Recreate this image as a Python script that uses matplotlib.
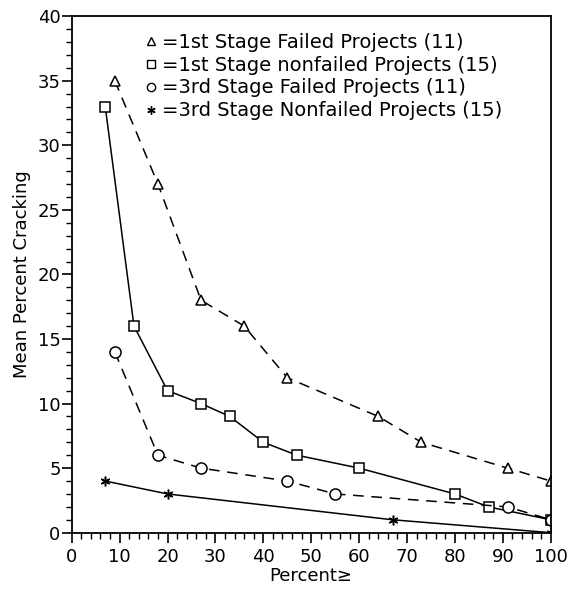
"""Mean percent cracking vs percent>= for failed / nonfailed projects."""

import matplotlib
matplotlib.use("Agg")
import matplotlib.pyplot as plt
from matplotlib.lines import Line2D
from matplotlib.ticker import MultipleLocator

# data
x_1st_failed = [9, 18, 27, 36, 45, 64, 73, 91, 100]
y_1st_failed = [35, 27, 18, 16, 12, 9, 7, 5, 4]

x_1st_nonfailed = [7, 13, 20, 27, 33, 40, 47, 60, 80, 87, 100]
y_1st_nonfailed = [33, 16, 11, 10, 9, 7, 6, 5, 3, 2, 1]

x_3rd_failed = [9, 18, 27, 45, 55, 91, 100]
y_3rd_failed = [14, 6, 5, 4, 3, 2, 1]

x_3rd_nonfailed = [7, 20, 67, 100]
y_3rd_nonfailed = [4, 3, 1, 0]

labels = ["=1st Stage Failed Projects (11)",
          "=1st Stage nonfailed Projects (15)",
          "=3rd Stage Failed Projects (11)",
          "=3rd Stage Nonfailed Projects (15)"]

plt.rcParams['font.family'] = ['DejaVu Sans']

fig = plt.figure(figsize=(5.69, 5.89), dpi=100)
ax = fig.add_axes([0.126, 0.0956, 0.842, 0.877])

dash = (0, (7, 5))
mk = dict(color='black', markerfacecolor='white', markeredgecolor='black', markeredgewidth=1.1, lw=1.1)

ax.plot(x_1st_failed, y_1st_failed, marker='^', ms=7, linestyle=dash, **mk)
ax.plot(x_1st_nonfailed, y_1st_nonfailed, marker='s', ms=7, linestyle='-', **mk)
ax.plot(x_3rd_failed, y_3rd_failed, marker='o', ms=8, linestyle=dash, **mk)
ax.plot(x_3rd_nonfailed, y_3rd_nonfailed, marker=(6, 2, 0), ms=7, linestyle='-', **mk)

# legend: markers only, no lines
handles = [Line2D([], [], marker='^', ms=6, ls='none', mfc='white', mec='black'),
           Line2D([], [], marker='s', ms=6, ls='none', mfc='white', mec='black'),
           Line2D([], [], marker='o', ms=6, ls='none', mfc='white', mec='black'),
           Line2D([], [], marker=(6, 2, 0), ms=6, ls='none', mfc='white', mec='black')]
ax.legend(handles, labels, loc='upper left', bbox_to_anchor=(0.14, 0.983), frameon=False,
          fontsize=14, handlelength=0.5, handletextpad=0.3, labelspacing=0.2, borderaxespad=0)

ax.set_xlim(0, 100)
ax.set_ylim(0, 40)
ax.xaxis.set_major_locator(MultipleLocator(10))
ax.xaxis.set_minor_locator(MultipleLocator(2))
ax.yaxis.set_major_locator(MultipleLocator(5))
ax.yaxis.set_minor_locator(MultipleLocator(1))
ax.tick_params(which='major', direction='out', length=7, width=1.2, labelsize=13)
ax.tick_params(axis='x', which='major', pad=4)
ax.tick_params(axis='y', which='major', pad=1)
ax.tick_params(which='minor', direction='out', length=4, width=1)
for s in ax.spines.values():
    s.set_linewidth(1.3)

ax.set_xlabel("Percent≥", fontsize=13, labelpad=1)
ax.set_ylabel("Mean Percent Cracking", fontsize=13, labelpad=5)

fig.savefig("out.png", dpi=100)
